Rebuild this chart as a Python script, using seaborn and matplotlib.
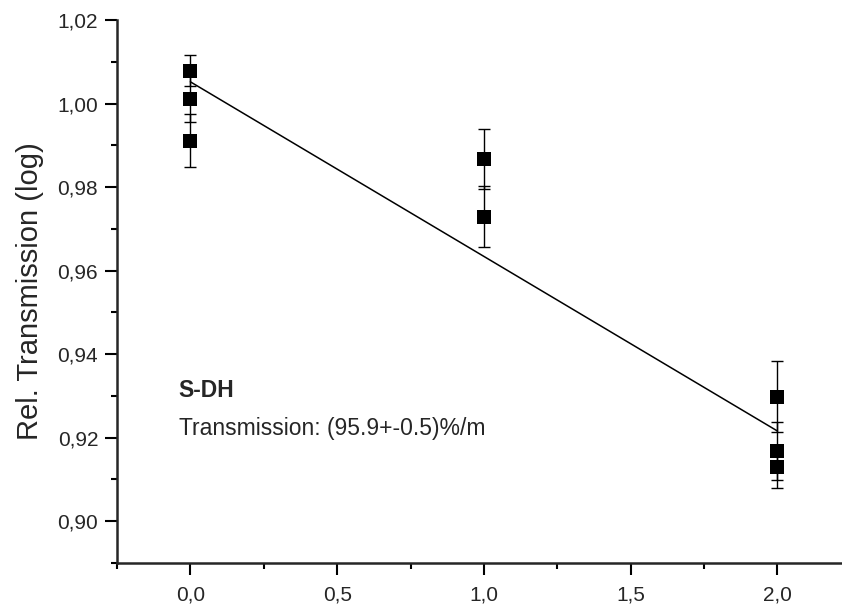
import numpy as np
import pandas as pd
import seaborn as sns
import matplotlib.pyplot as plt
from matplotlib.ticker import MultipleLocator, FuncFormatter

# measured relative transmission, three runs per length
length_m = [0, 0, 0, 1, 1, 2, 2, 2]
rel_trans = [1.0079, 1.0010, 0.9911, 0.9867, 0.9729, 0.9298, 0.9168, 0.9130]
rel_err = [0.0037, 0.0055, 0.0064, 0.0072, 0.0073, 0.0085, 0.0070, 0.0051]

# fitted line endpoints
fit_x = [0, 2]
fit_y = [1.0052, 0.9216]

x_ticks = [0.0, 0.5, 1.0, 1.5, 2.0]
y_ticks = [0.90, 0.92, 0.94, 0.96, 0.98, 1.00, 1.02]

df = pd.DataFrame({"length": length_m, "trans": rel_trans, "err": rel_err})
fit = pd.DataFrame({"length": fit_x, "trans": fit_y})

sns.set_style("ticks")
plt.rcParams['font.family'] = ['Liberation Sans', 'DejaVu Sans']

fig = plt.figure(figsize=(8.42, 6.11), dpi=100)
ax = fig.add_axes([117/842, 48/611, 725/842, 543/611])

sns.lineplot(data=fit, x="length", y="trans", color="black", linewidth=1.1, ax=ax)
ax.errorbar(df["length"], df["trans"], yerr=df["err"], fmt="none",
            ecolor="black", elinewidth=1.0, capsize=4.5, capthick=1.0, zorder=3)
sns.scatterplot(data=df, x="length", y="trans", marker="s", s=95, color="black",
                edgecolor="black", linewidth=0, zorder=4, ax=ax)

ax.set_xlim(-0.25, 2.22)
ax.set_ylim(0.89, 1.02)
ax.set_xticks(x_ticks)
ax.set_yticks(y_ticks)
ax.xaxis.set_minor_locator(MultipleLocator(0.25))
ax.yaxis.set_minor_locator(MultipleLocator(0.01))
ax.xaxis.set_major_formatter(FuncFormatter(lambda v, p: f"{v:.1f}".replace(".", ",")))
ax.yaxis.set_major_formatter(FuncFormatter(lambda v, p: f"{v:.2f}".replace(".", ",")))

sns.despine(ax=ax)
for s in ["left", "bottom"]:
    ax.spines[s].set_linewidth(1.8)
ax.tick_params(which="major", length=8.5, width=1.5, labelsize=15, pad=5, color="black")
ax.tick_params(which="minor", length=4.5, width=1.5, color="black")
ax.tick_params(axis="x", pad=8)

ax.set_xlabel("")
ax.set_ylabel("Rel. Transmission (log)", fontsize=21, labelpad=10)

ax.text(-0.04, 0.9314, "S-DH", fontsize=16.5, fontweight="bold", va="center")
ax.text(-0.04, 0.9223, "Transmission: (95.9+-0.5)%/m", fontsize=16.5, va="center")

plt.savefig("out.png", dpi=100)
